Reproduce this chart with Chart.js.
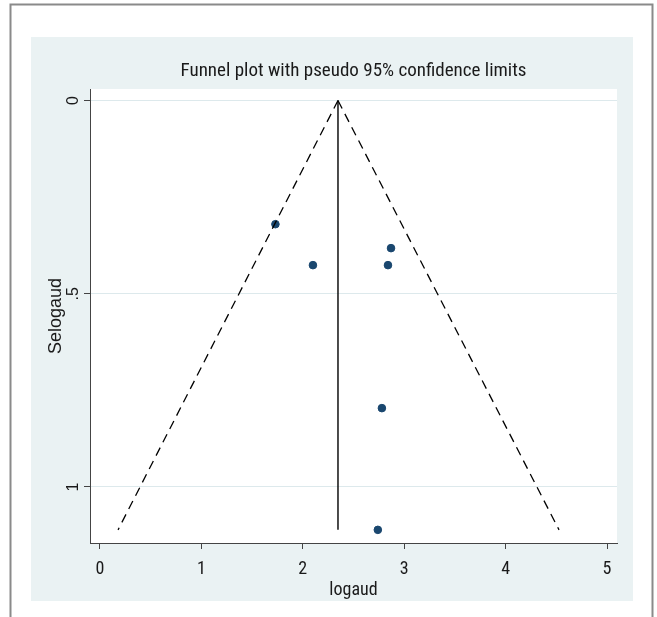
<!DOCTYPE html>
<html>
<head>
<meta charset="utf-8">
<script src="https://cdn.jsdelivr.net/npm/chart.js@4/dist/chart.umd.min.js"></script>
<style>
  html, body { margin: 0; padding: 0; background: #fff; }
  canvas { display: block; }
</style>
</head>
<body>
<canvas id="funnel" width="657" height="617"></canvas>
<script>
// Study estimates (logaud) and their standard errors (Selogaud)
var logaud = [1.73, 2.10, 2.87, 2.84, 2.78, 2.74];
var selogaud = [0.32, 0.426, 0.382, 0.426, 0.796, 1.111];

// Funnel: pooled estimate line and pseudo 95% limits
var funnelSe = [0, 1.111];
var pooledX = [2.347, 2.347];
var lowerX = [2.347, 0.178];
var upperX = [2.347, 4.527];

// Tick labels
var xTicks = [0, 1, 2, 3, 4, 5];
var yTicks = [0, 0.5, 1];

function pairs(xs, ys) {
    return xs.map(function (x, i) { return {x: x, y: ys[i]}; });
}

var narrow = "'Liberation Sans Narrow', 'Arial Narrow', 'Roboto Condensed', sans-serif";
var plain = "'Liberation Sans', Arial, sans-serif";

// Frame, light panel and white plot region
var backdrop = {
    id: 'backdrop',
    beforeDraw: function (chart) {
        var c = chart.ctx, a = chart.chartArea;
        c.save();
        c.fillStyle = '#eaf2f3';
        c.fillRect(31, 37, 602, 564);
        c.fillStyle = '#ffffff';
        c.fillRect(a.left, a.top, a.right - a.left, a.bottom - a.top);
        c.strokeStyle = '#8a8a8a';
        c.lineWidth = 2;
        c.beginPath();
        c.moveTo(10.5, 617);
        c.lineTo(10.5, 4.5);
        c.lineTo(652.5, 4.5);
        c.lineTo(652.5, 617);
        c.stroke();
        c.restore();
    }
};

var ctx = document.getElementById('funnel').getContext('2d');
var funnelChart = new Chart(ctx, {
    type: 'scatter',
    data: {
        datasets: [{
                label: 'lower',
                type: 'line',
                data: pairs(lowerX, funnelSe),
                borderColor: '#000',
                borderWidth: 1.3,
                borderDash: [9, 6],
                pointRadius: 0,
                fill: false
            },
            {
                label: 'upper',
                type: 'line',
                data: pairs(upperX, funnelSe),
                borderColor: '#000',
                borderWidth: 1.3,
                borderDash: [9, 6],
                pointRadius: 0,
                fill: false
            },
            {
                label: 'pooled',
                type: 'line',
                data: pairs(pooledX, funnelSe),
                borderColor: '#000',
                borderWidth: 1.4,
                pointRadius: 0,
                fill: false
            },
            {
                label: 'studies',
                data: pairs(logaud, selogaud),
                backgroundColor: '#1a476f',
                borderColor: '#1a476f',
                pointRadius: 3.8,
                pointHoverRadius: 3.8
            }
        ]
    },
    options: {
        responsive: false,
        animation: false,
        devicePixelRatio: 1,
        layout: {
            padding: {left: 31, right: 40, top: 50, bottom: 16}
        },
        plugins: {
            legend: {display: false},
            tooltip: {enabled: false},
            title: {
                display: true,
                fullSize: false,
                text: 'Funnel plot with pseudo 95% confidence limits',
                color: '#1a1a1a',
                font: {family: narrow, size: 19, weight: 'normal'},
                padding: {top: 9.6, bottom: 6.6}
            }
        },
        scales: {
            x: {
                type: 'linear',
                min: -0.0986,
                max: 5.0986,
                afterBuildTicks: function (scale) {
                    scale.ticks = xTicks.map(function (v) { return {value: v}; });
                },
                afterFit: function (scale) { scale.height = 58; },
                grid: {
                    drawOnChartArea: false,
                    drawTicks: true,
                    tickLength: 6,
                    tickColor: '#444'
                },
                border: {display: true, color: '#444', width: 1},
                ticks: {
                    color: '#1a1a1a',
                    padding: 10,
                    font: {family: narrow, size: 18},
                    maxRotation: 0
                },
                title: {
                    display: true,
                    text: 'logaud',
                    color: '#1a1a1a',
                    font: {family: narrow, size: 18},
                    padding: {top: 0, bottom: 0}
                }
            },
            y: {
                type: 'linear',
                reverse: true,
                min: -0.0298,
                max: 1.145,
                afterBuildTicks: function (scale) {
                    scale.ticks = yTicks.map(function (v) { return {value: v}; });
                },
                afterFit: function (scale) { scale.width = 59; },
                grid: {
                    color: '#dde9ec',
                    lineWidth: 1,
                    drawTicks: true,
                    tickLength: 6,
                    tickColor: '#444'
                },
                border: {display: true, color: '#444', width: 1},
                ticks: {
                    color: '#1a1a1a',
                    padding: 4,
                    crossAlign: 'center',
                    minRotation: 90,
                    maxRotation: 90,
                    font: {family: plain, size: 16},
                    callback: function (v) {
                        return v === 0.5 ? '.5' : String(v);
                    }
                },
                title: {
                    display: true,
                    text: 'Selogaud',
                    color: '#1a1a1a',
                    font: {family: plain, size: 18},
                    padding: {top: 14, bottom: 0}
                }
            }
        }
    },
    plugins: [backdrop]
});
</script>
</body>
</html>
